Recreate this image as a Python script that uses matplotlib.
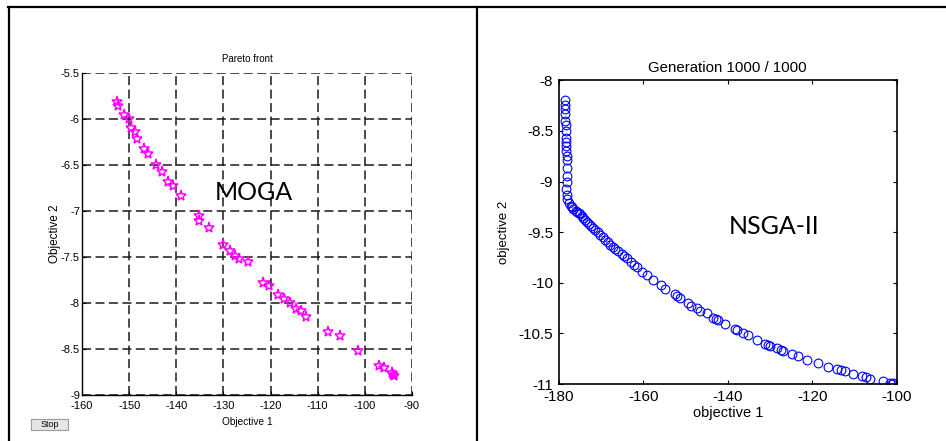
import matplotlib
matplotlib.use("Agg")
import matplotlib.pyplot as plt
from matplotlib.patches import FancyBboxPatch
from matplotlib.lines import Line2D

plt.rcParams['axes.unicode_minus'] = False
plt.rcParams['lines.scale_dashes'] = False

# ---------------- data ----------------
moga_obj1 = [-152.65, -152.3, -151.1, -150.0, -149.5, -148.8, -148.3, -146.8, -146.1,
             -144.2, -143.0, -141.7, -140.8, -138.9, -135.2, -135.1, -133.1, -130.1,
             -128.7, -127.6, -126.6, -124.8, -121.7, -120.3, -118.5, -117.1, -115.8,
             -114.5, -113.6, -112.5, -107.9, -105.2, -101.4, -97.0, -96.0, -94.2,
             -93.9, -94.1]
moga_obj2 = [-5.81, -5.86, -5.96, -6.00, -6.10, -6.14, -6.22, -6.33, -6.38,
             -6.50, -6.58, -6.68, -6.73, -6.84, -7.05, -7.11, -7.18, -7.37,
             -7.44, -7.49, -7.52, -7.55, -7.78, -7.82, -7.91, -7.96, -8.00,
             -8.06, -8.09, -8.15, -8.32, -8.36, -8.52, -8.69, -8.71, -8.76,
             -8.79, -8.78]

nsga_obj1 = [-178.50, -178.45, -178.42, -178.40, -178.42, -178.38, -178.34, -178.30,
             -178.26, -178.22, -178.19, -178.15, -178.11, -178.11, -178.11, -178.15,
             -178.19, -178.11, -177.95, -177.63, -177.16, -176.90, -176.53, -176.00,
             -175.74, -175.30, -174.95, -174.55, -174.16, -173.70, -173.37, -172.90,
             -172.43, -171.80, -171.40, -170.80, -170.22, -169.50, -169.03, -168.40,
             -167.85, -167.20, -166.67, -166.00, -165.09, -164.50, -163.91, -162.96,
             -162.20, -161.54, -160.36, -159.17, -157.75, -155.86, -154.83, -152.47,
             -151.90, -151.28, -149.31, -148.60, -147.34, -146.60, -144.97, -143.39,
             -142.80, -142.21, -140.63, -138.26, -137.80, -136.29, -135.11, -133.14,
             -131.16, -130.50, -129.98, -128.40, -127.50, -126.82, -124.85, -123.27,
             -121.30, -118.54, -116.17, -114.20, -113.20, -112.23, -110.26, -108.28,
             -107.30, -106.31, -103.16, -101.58, -101.18, -100.80]
nsga_obj2 = [-8.19, -8.24, -8.28, -8.33, -8.40, -8.44, -8.50, -8.57,
             -8.61, -8.65, -8.70, -8.75, -8.79, -8.87, -8.95, -9.00,
             -9.07, -9.13, -9.17, -9.21, -9.24, -9.25, -9.27, -9.29,
             -9.30, -9.31, -9.32, -9.34, -9.36, -9.38, -9.40, -9.42,
             -9.44, -9.46, -9.48, -9.50, -9.53, -9.55, -9.58, -9.60,
             -9.63, -9.65, -9.67, -9.69, -9.72, -9.74, -9.76, -9.79,
             -9.82, -9.84, -9.89, -9.92, -9.97, -10.02, -10.06, -10.11,
             -10.13, -10.15, -10.20, -10.23, -10.25, -10.28, -10.30, -10.35,
             -10.36, -10.37, -10.41, -10.46, -10.47, -10.50, -10.52, -10.57,
             -10.60, -10.61, -10.62, -10.64, -10.66, -10.67, -10.70, -10.72,
             -10.76, -10.79, -10.83, -10.85, -10.86, -10.87, -10.90, -10.92,
             -10.93, -10.95, -10.97, -10.99, -11.00, -10.99]

left_xticks = [-160, -150, -140, -130, -120, -110, -100, -90]
left_yticks = [-5.5, -6, -6.5, -7, -7.5, -8, -8.5, -9]
left_yticklabels = ['-5.5', '-6', '-6.5', '-7', '-7.5', '-8', '-8.5', '-9']
right_xticks = [-180, -160, -140, -120, -100]
right_yticks = [-8, -8.5, -9, -9.5, -10, -10.5, -11]
right_yticklabels = ['-8', '-8.5', '-9', '-9.5', '-10', '-10.5', '-11']

W, H = 946, 441
fig = plt.figure(figsize=(W / 100, H / 100), dpi=100)
fig.patch.set_facecolor('white')

narrow = ['Liberation Sans Narrow', 'Liberation Sans', 'DejaVu Sans']
arial = ['Liberation Sans', 'DejaVu Sans']

# ---------------- frame lines ----------------
def fx(px):
    return px / W

def fy(py):
    return 1 - py / H

for xs, ys in [([fx(8), fx(946)], [fy(6.5), fy(6.5)]),
               ([fx(8.5), fx(8.5)], [fy(6.5), fy(441)]),
               ([fx(476.5), fx(476.5)], [fy(6.5), fy(441)])]:
    fig.add_artist(Line2D(xs, ys, color='black', lw=1.6, transform=fig.transFigure))

# ---------------- left: MOGA ----------------
axL = fig.add_axes([fx(82), fy(395), fx(412) - fx(82), fy(73) - fy(395)])
axL.plot(moga_obj1, moga_obj2, linestyle='none', marker='*', markersize=8,
         markerfacecolor='none', markeredgecolor='#ff00ff', markeredgewidth=1.1)
axL.set_xlim(-160, -90)
axL.set_ylim(-9, -5.5)
axL.set_xticks(left_xticks)
axL.set_xticklabels([str(v) for v in left_xticks])
axL.set_yticks(left_yticks)
axL.set_yticklabels(left_yticklabels)
axL.grid(True, color='#1a1a1a', linestyle=(0, (6.5, 3.2)), linewidth=1.1)
axL.set_axisbelow(True)
for s in ['top', 'right']:
    axL.spines[s].set_visible(False)
for s in ['left', 'bottom']:
    axL.spines[s].set_linewidth(1.0)
    axL.spines[s].set_zorder(3)
axL.tick_params(direction='in', length=3, width=0.8, labelsize=8)
axL.tick_params(axis='x', pad=4.5)
axL.tick_params(axis='y', pad=1.5)
for lab in axL.get_xticklabels() + axL.get_yticklabels():
    lab.set_family(narrow)
axL.set_title('Pareto front', fontsize=7, family=narrow, pad=8)
axL.set_xlabel('Objective 1', fontsize=7.3, family=narrow, labelpad=4)
axL.set_ylabel('Objective 2', fontsize=8.5, family=narrow, labelpad=0)
fig.text(fx(254), fy(193), 'MOGA', fontsize=18, family=['Lato', 'Open Sans', 'DejaVu Sans'],
         ha='center', va='center')

# Stop button
fig.add_artist(FancyBboxPatch((fx(31), fy(430)), fx(68) - fx(31), fy(419) - fy(430),
                              boxstyle='square,pad=0', transform=fig.transFigure,
                              facecolor='#e6e6e6', edgecolor='#9a9a9a', lw=0.8))
fig.text(fx(49.5), fy(424.5), 'Stop', fontsize=6.5, family=narrow, ha='center', va='center')

# ---------------- right: NSGA-II ----------------
axR = fig.add_axes([fx(558.7), fy(384), fx(896.7) - fx(558.7), fy(80.3) - fy(384)])
axR.plot(nsga_obj1, nsga_obj2, linestyle='none', marker='o', markersize=6.3,
         markerfacecolor='none', markeredgecolor='#0000ff', markeredgewidth=0.8)
axR.set_xlim(-180, -100)
axR.set_ylim(-11, -8)
axR.set_xticks(right_xticks)
axR.set_xticklabels([str(v) for v in right_xticks])
axR.set_yticks(right_yticks)
axR.set_yticklabels(right_yticklabels)
for s in axR.spines.values():
    s.set_linewidth(1.2)
axR.tick_params(direction='in', length=3, width=0.8, labelsize=11, pad=4,
                top=True, right=True)
for lab in axR.get_xticklabels() + axR.get_yticklabels():
    lab.set_family(arial)
axR.set_title('Generation 1000 / 1000', fontsize=10.8, family=arial, pad=6)
axR.set_xlabel('objective 1', fontsize=10.5, family=arial, labelpad=2)
axR.set_ylabel('objective 2', fontsize=9.5, family=arial, labelpad=6)
fig.text(fx(774), fy(226), 'NSGA-II', fontsize=18, family=['Lato', 'Open Sans', 'DejaVu Sans'],
         ha='center', va='center')

fig.savefig('out.png', dpi=100, facecolor='white')
